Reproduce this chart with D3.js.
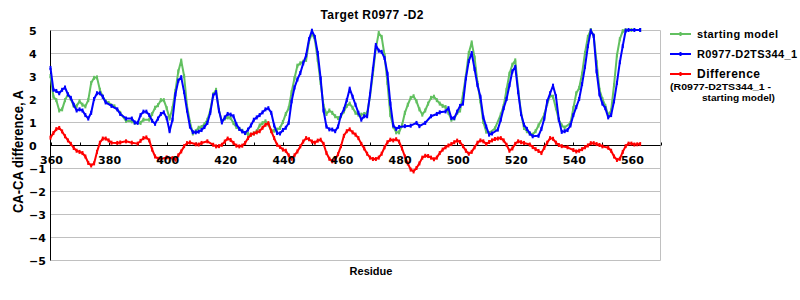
<!DOCTYPE html>
<html>
<head>
<meta charset="utf-8">
<script src="https://cdn.jsdelivr.net/npm/d3@7"></script>
<style>
  body { margin: 0; background: #fff; }
  svg { display: block; }
  .tick-label { font-family: "DejaVu Sans", sans-serif; font-weight: bold; font-size: 11px; fill: #000; }
  .caption { font-family: "Liberation Sans", Arial, sans-serif; font-weight: bold; fill: #000; }
</style>
</head>
<body>
<div id="chart"></div>
<script>
// ---- data: [residue, value] ----
const seriesNames = ["starting model", "R0977-D2TS344_1", "Difference"];
const seriesColors = ["#62c060", "#0000ff", "#ff0000"];

const startingModel = [
  [360,3.0],[361,2.1],[362,1.95],[363,1.5],[364,1.55],[365,1.95],[366,2.2],[367,2.0],[368,1.7],[369,1.7],
  [370,1.9],[371,1.75],[372,1.68],[373,1.95],[374,2.7],[375,2.92],[376,2.94],[377,2.4],[378,2.1],[379,1.9],
  [380,1.83],[382,1.68],[384,1.4],[386,1.05],[388,1.03],[389,0.96],[391,0.96],[392,1.1],[394,1.1],[395,1.35],
  [396,1.62],[397,1.73],[398,1.95],[399,1.95],[400,1.6],[401,1.15],[402,1.6],[403,2.35],[404,3.2],[405,3.67],
  [406,3.0],[407,1.7],[408,1.0],[409,0.5],[410,0.6],[411,0.75],[412,0.78],[413,0.9],[414,1.1],[415,1.5],
  [416,2.2],[417,2.4],[418,1.5],[419,1.03],[420,1.15],[421,1.2],[422,1.17],[423,0.95],[424,0.78],[425,0.7],
  [426,0.62],[427,0.52],[428,0.48],[429,0.45],[430,0.5],[431,0.6],[432,0.85],[433,0.95],[434,1.03],[435,0.9],
  [436,0.62],[437,0.62],[438,0.67],[439,0.74],[440,1.0],[441,1.35],[442,1.6],[443,2.3],[444,2.9],[445,3.45],
  [446,3.55],[447,3.62],[448,3.7],[449,4.5],[450,4.85],[451,4.6],[452,3.7],[453,2.7],[454,1.7],[455,1.35],
  [456,1.5],[457,1.4],[458,1.25],[459,1.17],[460,1.25],[461,1.46],[462,1.7],[463,1.8],[464,1.62],[465,1.4],
  [466,1.32],[467,1.32],[468,1.35],[469,1.39],[470,2.12],[471,3.1],[472,4.2],[473,4.87],[474,4.7],[475,3.9],
  [476,2.7],[477,1.3],[478,0.8],[479,0.55],[480,0.55],[481,0.85],[482,1.4],[483,1.75],[484,2.05],[485,2.12],
  [486,1.9],[487,1.55],[488,1.32],[489,1.5],[490,1.8],[491,2.05],[492,2.1],[493,1.95],[494,1.8],[495,1.7],
  [496,1.65],[497,1.4],[498,1.1],[499,1.15],[500,1.39],[501,1.5],[502,2.2],[503,3.0],[504,4.0],[505,4.46],
  [506,3.8],[507,2.7],[508,1.9],[509,1.0],[510,0.58],[511,0.52],[513,0.72],[515,1.32],[516,1.7],[517,2.4],
  [518,3.1],[519,3.49],[520,3.68],[521,2.4],[522,1.4],[523,0.74],[524,0.6],[525,0.5],[526,0.45],[527,0.6],
  [528,0.85],[530,1.32],[531,1.8],[532,2.15],[533,2.1],[534,1.6],[535,1.1],[536,0.85],[537,0.76],[539,0.95],
  [540,1.6],[541,2.25],[542,2.48],[543,3.1],[544,4.0],[545,4.7],[546,5.0],[547,4.75],[548,3.6],[549,2.4],
  [550,2.0],[551,1.7],[552,1.3],[553,1.5],[554,2.6],[555,3.9],[556,4.6],[557,4.95],[558,5.0],[560,5.0],[563,5.0]
];

const model344 = [
  [360,3.35],[361,2.4],[362,2.35],[363,2.25],[364,2.4],[365,2.5],[366,2.2],[367,2.05],[368,1.75],[369,1.5],
  [370,1.55],[371,1.5],[372,1.3],[373,1.15],[374,1.4],[375,2.0],[376,2.25],[377,2.25],[378,2.1],[379,1.85],
  [381,1.7],[383,1.55],[384,1.35],[386,1.15],[388,1.15],[389,0.98],[390,0.96],[391,1.3],[392,1.45],[393,1.45],
  [394,1.3],[395,1.05],[396,0.92],[397,1.15],[398,1.35],[399,1.42],[400,1.17],[401,0.6],[402,1.1],[403,2.2],
  [404,2.8],[405,2.95],[406,2.3],[407,1.5],[408,0.8],[409,0.56],[410,0.55],[411,0.58],[412,0.65],[413,0.78],
  [414,0.96],[415,1.4],[416,2.15],[417,2.3],[418,1.5],[419,0.98],[420,1.2],[421,1.35],[422,1.32],[423,1.25],
  [424,0.9],[425,0.7],[426,0.59],[427,0.52],[428,0.67],[429,0.85],[430,1.1],[431,1.2],[432,1.3],[433,1.42],
  [434,1.55],[435,1.6],[436,1.4],[437,0.85],[438,0.52],[439,0.5],[440,0.65],[441,0.75],[442,0.96],[443,1.9],
  [444,2.5],[445,2.85],[446,3.13],[447,3.55],[448,3.9],[449,4.6],[450,4.97],[451,4.7],[452,4.0],[453,2.9],
  [454,1.5],[455,0.8],[456,0.68],[457,0.67],[458,0.6],[459,0.8],[460,1.3],[461,1.55],[462,1.95],[463,2.45],
  [464,2.1],[465,1.75],[466,1.4],[467,1.1],[468,1.25],[469,1.25],[470,2.2],[471,3.3],[472,4.35],[473,4.1],
  [474,4.05],[475,3.78],[476,3.1],[477,1.8],[478,0.85],[479,0.7],[480,0.78],[482,0.82],[484,0.84],[486,0.96],
  [487,0.82],[489,0.96],[491,1.25],[493,1.35],[494,1.42],[496,1.46],[497,1.6],[498,1.17],[499,1.17],[500,1.45],
  [501,1.7],[502,1.8],[503,2.9],[504,3.65],[505,4.0],[506,3.3],[507,2.6],[508,2.1],[509,1.2],[510,0.8],
  [511,0.45],[512,0.5],[514,0.67],[515,1.1],[516,1.6],[517,2.0],[518,2.6],[519,3.2],[520,3.4],[521,2.3],
  [522,1.35],[523,0.88],[524,0.7],[525,0.5],[526,0.38],[528,0.4],[529,0.7],[530,1.15],[531,1.9],[532,2.25],
  [533,2.58],[534,2.12],[535,1.1],[536,0.57],[537,0.6],[538,0.65],[539,0.85],[540,1.3],[541,1.65],[542,2.0],
  [543,2.65],[544,3.4],[545,4.3],[546,4.97],[547,4.75],[548,3.2],[549,2.2],[550,1.8],[551,1.6],[552,1.2],
  [553,1.3],[554,1.9],[555,2.7],[556,3.6],[557,4.3],[558,4.97],[559,5.0],[561,5.0],[563,5.0]
];

const difference = [
  [360,0.32],[361,0.52],[362,0.69],[363,0.74],[364,0.59],[365,0.38],[366,0.2],[367,0.05],[368,-0.13],[369,-0.25],
  [370,-0.3],[371,-0.35],[372,-0.5],[373,-0.78],[374,-0.89],[375,-0.8],[376,-0.3],[377,0.1],[378,0.28],[379,0.28],
  [380,0.2],[381,0.1],[383,0.09],[384,0.11],[386,0.16],[388,0.1],[390,0.06],[391,0.18],[392,0.3],[393,0.33],
  [394,0.2],[395,-0.2],[396,-0.5],[397,-0.6],[398,-0.61],[400,-0.54],[402,-0.57],[403,-0.64],[404,-0.45],[405,-0.28],
  [406,-0.05],[407,0.08],[408,0.11],[410,0.03],[411,0.02],[412,0.09],[414,0.16],[416,0.01],[417,-0.06],[418,-0.05],
  [419,0.01],[420,0.15],[421,0.28],[422,0.22],[423,0.09],[424,-0.03],[425,-0.06],[426,-0.03],[427,0.09],[428,0.3],
  [429,0.45],[430,0.5],[431,0.55],[432,0.6],[433,0.75],[434,0.88],[435,0.95],[436,0.6],[437,0.3],[438,0.01],
  [439,-0.08],[440,-0.2],[441,-0.25],[442,-0.45],[443,-0.6],[444,-0.45],[445,-0.28],[446,-0.06],[447,0.15],[448,0.3],
  [449,0.25],[450,0.15],[451,0.1],[452,0.19],[453,0.23],[454,0.05],[455,-0.35],[456,-0.6],[457,-0.71],[458,-0.64],
  [459,-0.4],[460,-0.05],[461,0.4],[462,0.6],[463,0.68],[464,0.55],[465,0.45],[466,0.3],[467,0.05],[468,-0.15],
  [469,-0.38],[470,-0.55],[471,-0.61],[472,-0.61],[473,-0.55],[474,-0.38],[475,-0.1],[476,0.12],[477,0.23],[478,0.2],
  [479,0.25],[480,0.15],[481,-0.15],[482,-0.5],[483,-0.8],[484,-1.07],[485,-1.15],[486,-1.0],[487,-0.8],[488,-0.55],
  [489,-0.47],[490,-0.48],[491,-0.55],[492,-0.62],[493,-0.55],[494,-0.35],[495,-0.2],[496,-0.1],[497,-0.02],[498,0.04],
  [499,0.12],[500,0.19],[501,0.13],[502,-0.05],[503,-0.25],[504,-0.38],[505,-0.3],[506,-0.1],[507,0.1],[508,0.2],
  [509,0.16],[510,0.04],[511,0.13],[512,0.2],[513,0.26],[514,0.28],[515,0.3],[516,0.2],[517,0.01],[518,-0.25],
  [519,-0.15],[520,0.05],[521,0.16],[522,0.12],[523,0.09],[525,0.02],[526,-0.09],[527,-0.18],[528,-0.26],[529,-0.35],
  [530,-0.12],[531,0.1],[532,0.3],[533,0.27],[534,0.1],[535,0.0],[536,-0.05],[538,-0.1],[540,-0.22],[541,-0.28],
  [542,-0.25],[543,-0.18],[544,-0.1],[545,-0.02],[546,0.08],[547,0.08],[548,0.04],[549,0.0],[550,-0.06],[552,-0.12],
  [553,-0.25],[554,-0.5],[555,-0.65],[556,-0.6],[557,-0.3],[558,-0.05],[559,0.06],[560,0.06],[561,0.02],[562,0.03],[563,0.04]
];

const xLabelTicks = [360, 380, 400, 420, 440, 460, 480, 500, 520, 540, 560];
const xMinorTicks = [370, 390, 410, 430, 450, 470, 490, 510, 530, 550, 570];
const yTicks = [5, 4, 3, 2, 1, 0, -1, -2, -3, -4, -5];

(function() {
    const W = 800, H = 300;
    const plot = {left: 50.5, right: 660.5, top: 30, bottom: 260};

    const svg = d3.select("#chart").append("svg")
        .attr("width", W)
        .attr("height", H);

    const x = d3.scaleLinear().domain([360, 570]).range([plot.left, plot.right]);
    const y = d3.scaleLinear().domain([-5, 5]).range([plot.bottom, plot.top]);
    const py = v => Math.round(y(v)) + 0.5;

    // horizontal gridlines
    svg.append("g").selectAll("line")
        .data(yTicks)
        .enter().append("line")
        .attr("x1", plot.left).attr("x2", plot.right)
        .attr("y1", d => py(d)).attr("y2", d => py(d))
        .attr("stroke", "#c0c0c0").attr("stroke-width", 1);

    // right border
    svg.append("line")
        .attr("x1", plot.right).attr("x2", plot.right)
        .attr("y1", py(5)).attr("y2", py(-5))
        .attr("stroke", "#c0c0c0");

    // y axis line
    svg.append("line")
        .attr("x1", plot.left).attr("x2", plot.left)
        .attr("y1", py(5)).attr("y2", py(-5))
        .attr("stroke", "#000");

    // y tick labels (left aligned like the original)
    svg.append("g").selectAll("text")
        .data(yTicks)
        .enter().append("text")
        .attr("class", "tick-label")
        .attr("x", 29)
        .attr("y", d => py(d) + 4)
        .text(d => d < 0 ? "\u2212" + Math.abs(d) : d);

    // series lines
    const line = d3.line().x(d => x(d[0])).y(d => y(d[1]));
    const allSeries = [startingModel, model344, difference];

    // x axis along zero
    const xAxis = svg.append("g");
    xAxis.append("line")
        .attr("x1", plot.left).attr("x2", plot.right)
        .attr("y1", py(0)).attr("y2", py(0))
        .attr("stroke", "#000");
    xAxis.selectAll(".minor")
        .data(xLabelTicks.concat(xMinorTicks))
        .enter().append("line")
        .attr("x1", d => Math.round(x(d)) + 0.5).attr("x2", d => Math.round(x(d)) + 0.5)
        .attr("y1", py(0) - 3).attr("y2", py(0))
        .attr("stroke", "#000");

    allSeries.forEach((data, i) => {
        const g = svg.append("g");
        g.append("path")
            .datum(data)
            .attr("fill", "none")
            .attr("stroke", seriesColors[i])
            .attr("stroke-width", 2)
            .attr("stroke-linejoin", "round")
            .attr("d", line);
        g.selectAll("rect")
            .data(data)
            .enter().append("rect")
            .attr("x", d => x(d[0]) - 1)
            .attr("y", d => y(d[1]) - 2)
            .attr("width", 2)
            .attr("height", 4)
            .attr("fill", seriesColors[i]);
    });

    // x tick labels sit just under the zero line
    svg.append("g").selectAll("text")
        .data(xLabelTicks)
        .enter().append("text")
        .attr("class", "tick-label")
        .attr("text-anchor", "middle")
        .attr("x", d => x(d) + 1)
        .attr("y", py(0) + 18)
        .text(d => d);

    // title and axis captions
    svg.append("text")
        .attr("class", "caption")
        .attr("x", 372).attr("y", 19)
        .attr("text-anchor", "middle")
        .style("font-size", "12px")
        .attr("textLength", 103)
        .text("Target R0977 -D2");

    svg.append("text")
        .attr("class", "caption")
        .attr("text-anchor", "middle")
        .attr("transform", "translate(22.5,151.5) rotate(-90)")
        .style("font-size", "14px")
        .attr("textLength", 123)
        .attr("lengthAdjust", "spacingAndGlyphs")
        .text("CA-CA difference, A");

    svg.append("text")
        .attr("class", "caption")
        .attr("x", 371).attr("y", 275)
        .attr("text-anchor", "middle")
        .style("font-size", "11px")
        .text("Residue");

    // legend
    const legendY = [34, 54, 74];
    const legendW = [81, 100, 63];
    const legend = svg.append("g");
    seriesNames.forEach((name, i) => {
        legend.append("line")
            .attr("x1", 670).attr("x2", 691)
            .attr("y1", legendY[i]).attr("y2", legendY[i])
            .attr("stroke", seriesColors[i]).attr("stroke-width", 2);
        legend.append("rect")
            .attr("x", 679.5).attr("y", legendY[i] - 2)
            .attr("width", 2).attr("height", 4)
            .attr("fill", seriesColors[i]);
        legend.append("text")
            .attr("class", "caption")
            .attr("x", 697).attr("y", legendY[i] + 4)
            .style("font-size", i === 2 ? "12px" : "11px")
            .attr("textLength", legendW[i])
            .text(name);
    });
    legend.append("text")
        .attr("class", "caption")
        .attr("x", 670).attr("y", 90)
        .style("font-size", "9.5px")
        .attr("textLength", 101)
        .attr("lengthAdjust", "spacingAndGlyphs")
        .text("(R0977-D2TS344_1 -");
    legend.append("text")
        .attr("class", "caption")
        .attr("x", 702).attr("y", 101)
        .style("font-size", "9.5px")
        .attr("textLength", 73)
        .attr("lengthAdjust", "spacingAndGlyphs")
        .text("starting model)");
})();
</script>
</body>
</html>
